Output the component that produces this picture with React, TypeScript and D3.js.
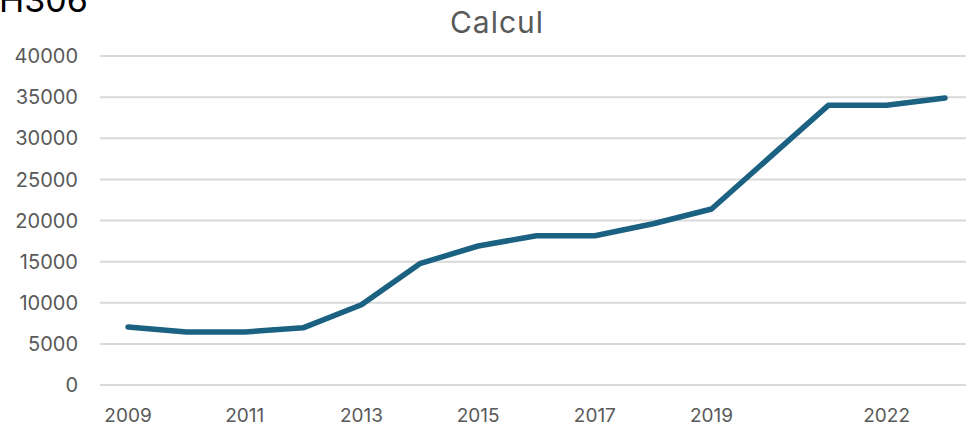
import React from "react";
import * as d3 from "d3";

const years = ["2009", "2010", "2011", "2012", "2013", "2014", "2015", "2016", "2017", "2018", "2019", "2020", "2021", "2022", "2023"];
const values = [7050, 6450, 6450, 6950, 9750, 14750, 16900, 18150, 18150, 19600, 21400, 27700, 34000, 34000, 34900];
const yTicks = [0, 5000, 10000, 15000, 20000, 25000, 30000, 35000, 40000];
const xLabels = ["2009", "2011", "2013", "2015", "2017", "2019", "2022"];

const W = 966;
const H = 429;
const font = "Inter, 'Liberation Sans', Arial, sans-serif";

export default function App() {
  const x = d3.scalePoint<string>().domain(years).range([128, 945]);
  const y = d3.scaleLinear().domain([0, 40000]).range([385, 56]);

  const line = d3
    .line<number>()
    .x((_, i) => x(years[i])!)
    .y((d) => y(d));

  return (
    <svg
      width={W}
      height={H}
      style={{ position: "absolute", left: 0, top: 0, background: "#fff" }}
    >
      <text x={-1} y={12} fontFamily={font} fontSize={34} fill="#000">
        H306
      </text>
      <text x={497} y={33} textAnchor="middle" fontFamily={font} fontSize={30} fill="#595959" letterSpacing={1}>
        Calcul
      </text>

      {yTicks.map((t) => (
        <g key={t}>
          <line x1={100} x2={W} y1={y(t)} y2={y(t)} stroke="#d9d9d9" strokeWidth={2} />
          <text
            x={78}
            y={y(t)}
            dy="0.36em"
            textAnchor="end"
            fontFamily={font}
            fontSize={20}
            fill="#595959"
          >
            {t}
          </text>
        </g>
      ))}

      {xLabels.map((l) => (
        <text
          key={l}
          x={x(l)}
          y={422}
          textAnchor="middle"
          fontFamily={font}
          fontSize={19}
          fill="#595959"
        >
          {l}
        </text>
      ))}

      <path
        d={line(values) || ""}
        fill="none"
        stroke="#1a6182"
        strokeWidth={5.5}
        strokeLinecap="round"
        strokeLinejoin="round"
      />
    </svg>
  );
}
